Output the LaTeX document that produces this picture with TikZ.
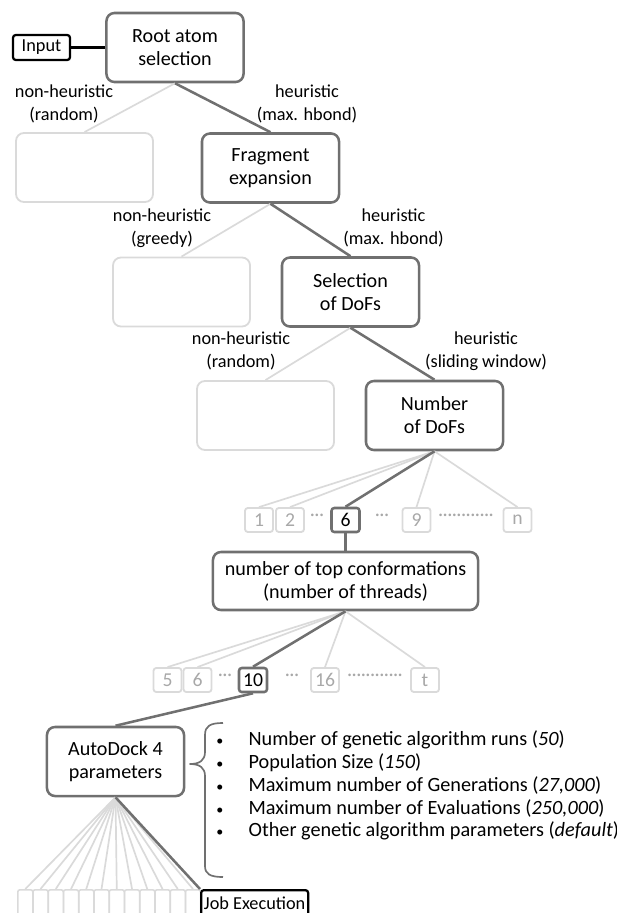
\documentclass[tikz,border=0pt]{standalone}
\usepackage{fontspec}
\setmainfont{Carlito}
\definecolor{darkline}{HTML}{707070}
\definecolor{lightline}{HTML}{DADADA}
\definecolor{lighttext}{HTML}{A8A8A8}
\newcommand{\parambullet}{{\fontsize{10}{10}\selectfont\textbullet}}

\begin{document}
\begin{tikzpicture}[x=0.025cm,y=-0.025cm,
        every node/.style={font=\fontsize{13}{16.3}\selectfont},
        mainbox/.style={draw=darkline,line width=1.8pt,rounded corners=0.2cm,minimum width=3.425cm,minimum height=1.725cm,align=center,font=\fontsize{14.3}{16.3}\selectfont},
        ghostbox/.style={draw=lightline,line width=1.3pt,rounded corners=0.2cm,minimum width=3.425cm,minimum height=1.725cm},
        numbox/.style={draw=lightline,line width=1.3pt,rounded corners=2pt,minimum width=0.7cm,minimum height=0.6cm,inner sep=0pt,text=lighttext,font=\fontsize{14}{16}\selectfont},
        selbox/.style={numbox,draw=darkline,line width=1.8pt,text=black},
        iobox/.style={draw=black,line width=1.6pt,rounded corners=2pt,inner sep=2pt},
        fanbox/.style={draw=lightline,line width=1.1pt,rounded corners=1.5pt,anchor=north west,minimum width=0.375cm,minimum height=0.75cm,inner sep=0pt},
        heu/.style={draw=darkline,line width=1.8pt},
        nonheu/.style={draw=lightline,line width=1.2pt},
        lbl/.style={align=center},
        dotrow/.style={text=lighttext,inner sep=0pt}]
        \useasboundingbox (0,0) rectangle (617,913);

        % search tree
        \node[mainbox]                                             (root) at (175,47.5)  {Root atom\\selection};
        \node[iobox,minimum width=1.425cm,minimum height=0.625cm]  (input) at (41.5,47.5) {Input};
        \node[ghostbox]                                            (g1)   at (84.5,167.5) {};
        \node[mainbox]                                             (frag) at (270.5,168)  {Fragment\\expansion};
        \node[ghostbox]                                            (g2)   at (181.5,292)  {};
        \node[mainbox]                                             (sel)  at (350.5,292)  {Selection\\of DoFs};
        \node[ghostbox]                                            (g3)   at (265.5,415.5) {};
        \node[mainbox]                                             (nod)  at (434.5,415.5) {Number\\of DoFs};

        \node[lbl] (l1n) at (64,104)    {non-heuristic\\(random)};
        \node[lbl] (l1h) at (307,104)   {heuristic\\(max. hbond)};
        \node[lbl] (l2n) at (162,228)   {non-heuristic\\(greedy)};
        \node[lbl] (l2h) at (393.5,228) {heuristic\\(max. hbond)};
        \node[lbl] (l3n) at (241,351)   {non-heuristic\\(random)};
        \node[lbl] (l3h) at (486,351)   {heuristic\\(sliding window)};

        % number of DoFs
        \node[numbox] (n1) at (259,520)   {1};
        \node[numbox] (n2) at (290,520)   {2};
        \node[selbox] (n6) at (345.5,520) {6};
        \node[numbox] (n9) at (416.5,520) {9};
        \node[numbox] (nn) at (517.5,520) {n};
        \node[dotrow] (d1) at (317,517) {···};
        \node[dotrow] (d2) at (382,517) {···};
        \node[dotrow] (d3) at (466,517) {············};

        \node[mainbox,minimum width=6.625cm,minimum height=1.45cm] (ntc) at (345.5,581) {number of top conformations\\(number of threads)};

        % number of threads
        \node[numbox] (m5)  at (167.5,680) {5};
        \node[numbox] (m6)  at (197.5,680) {6};
        \node[selbox] (m10) at (253,680)   {10};
        \node[numbox] (m16) at (325,680)   {16};
        \node[numbox] (mt)  at (425,680)   {t};
        \node[dotrow] (e1) at (225,677) {···};
        \node[dotrow] (e2) at (292,677) {···};
        \node[dotrow] (e3) at (375,677) {············};

        \node[mainbox] (ad) at (115.5,761.5) {AutoDock 4\\parameters};
        \node[anchor=west,inner sep=0pt,font=\fontsize{14.4}{16.3}\selectfont] (params) at (216,786.5) {%
            \begin{tabular}{@{}l@{\hspace{18pt}}l@{}}
            \parambullet & Number of genetic algorithm runs (\textit{50})\\
            \parambullet & Population Size (\textit{150})\\
            \parambullet & Maximum number of Generations (\textit{27,000})\\
            \parambullet & Maximum number of Evaluations (\textit{250,000})\\
            \parambullet & Other genetic algorithm parameters (\textit{default})
            \end{tabular}};
        \coordinate (bracetop) at (223,723);
        \coordinate (bracetip) at (190,764);
        \coordinate (bracebot) at (223,877);

        % jobs
        \foreach \i in {1,...,12}
            \node[fanbox] (f\i) at ({17+15.25*(\i-1)},889) {};
        \node[iobox,anchor=north west,minimum width=2.325cm,minimum height=0.65cm,inner ysep=1pt] (job) at (200,889) {Job Execution};

        % connectors
        \draw[black,line width=1.6pt] (input.east) -- (root.west);
        \draw[nonheu] (root.south) -- (g1.north);
        \draw[heu]    (root.south) -- (frag.north);
        \draw[nonheu] (frag.south) -- (g2.north);
        \draw[heu]    (frag.south) -- (sel.north);
        \draw[nonheu] (sel.south)  -- (g3.north);
        \draw[heu]    (sel.south)  -- (nod.north);

        \foreach \n in {n1,n2,n9,nn}
            \draw[nonheu] (nod.south) -- (\n.north);
        \draw[heu] (nod.south) -- (n6.north);
        \draw[heu] (n6.south)  -- (ntc.north);

        \foreach \m in {m5,m6,m16,mt}
            \draw[nonheu] (ntc.south) -- (\m.north);
        \draw[heu] (ntc.south) -- (m10.north);
        \draw[heu] (m10.south) -- (ad.north);

        % brace
        \draw[darkline,line width=1.2pt,line join=round]
            (bracetop) .. controls (210,723) and (205,726) .. (205,735)
            -- (205,752) .. controls (205,760) and (200,764) .. (bracetip)
            .. controls (200,764) and (205,768) .. (205,776)
            -- (205,866) .. controls (205,874) and (210,877) .. (bracebot);

        \foreach \i in {1,...,12}
            \draw[nonheu] (ad.south) -- (f\i.north);
        \draw[heu] (ad.south) -- (job.north west);
    \end{tikzpicture}
\end{document}
